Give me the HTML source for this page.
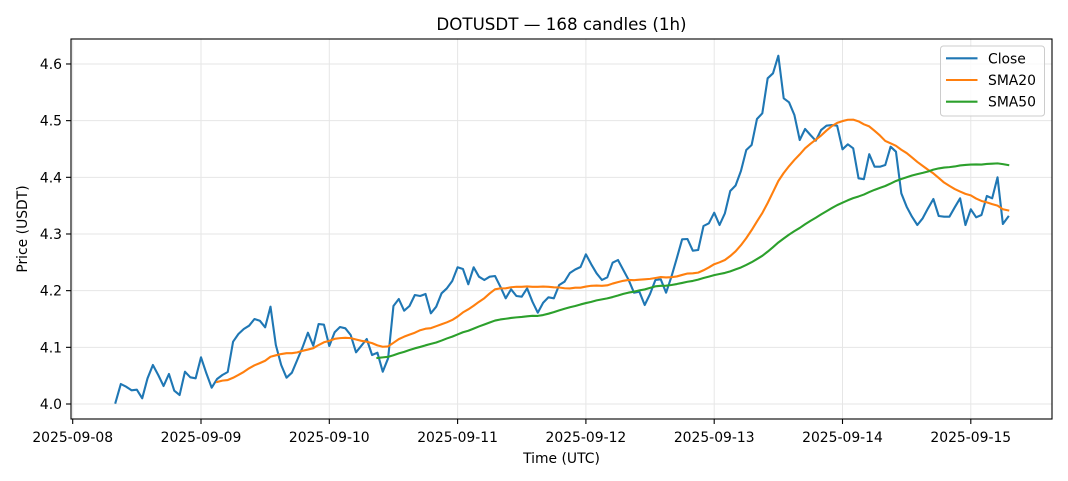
<!DOCTYPE html>
<html>
<head>
<meta charset="utf-8">
<style>
html,body{margin:0;padding:0;background:#fff;}
svg{display:block;}
text{font-family:"DejaVu Sans","Liberation Sans",sans-serif;fill:#000;}
</style>
</head>
<body>
<svg id="chart" width="1068" height="481" viewBox="0 0 1068 481" xmlns="http://www.w3.org/2000/svg">
<rect x="0" y="0" width="1068" height="481" fill="#fff"/>
<text x="561.5" y="30" font-size="16.7" text-anchor="middle">DOTUSDT — 168 candles (1h)</text>
<g id="grid" stroke="#e6e6e6" stroke-width="1"></g>
<g id="series" fill="none" stroke-linejoin="round" stroke-linecap="square"></g>
<rect x="71" y="39" width="981" height="380" fill="none" stroke="#000" stroke-width="1.1"/>
<g id="ticks" stroke="#000" stroke-width="1.1"></g>
<g id="labels" font-size="13.9"></g>
<text x="561.5" y="463" font-size="13.9" text-anchor="middle">Time (UTC)</text>
<text transform="translate(27,229) rotate(-90)" font-size="13.9" text-anchor="middle">Price (USDT)</text>
<g>
<rect x="940.5" y="46" width="104" height="70" rx="3" ry="3" fill="#fff" fill-opacity="0.8" stroke="#cccccc" stroke-width="1"/>
<line x1="946" y1="58.3" x2="977.5" y2="58.3" stroke="#1f77b4" stroke-width="2.1"/>
<line x1="946" y1="80" x2="977.5" y2="80" stroke="#ff7f0e" stroke-width="2.1"/>
<line x1="946" y1="101.7" x2="977.5" y2="101.7" stroke="#2ca02c" stroke-width="2.1"/>
<text x="988" y="63.3" font-size="13.9">Close</text>
<text x="988" y="85" font-size="13.9">SMA20</text>
<text x="988" y="106.7" font-size="13.9">SMA50</text>
</g>
</svg>
<script>
(function(){
var NS="http://www.w3.org/2000/svg";
var c=[402.7,384,386.7,390.3,389.7,398.3,378.3,365,375,386,374,390.7,395,371.7,377.3,378.3,357.3,373.3,387.7,379,
375,372,341.7,334,329,325.7,319,320.7,327.3,306.7,345,365,377.7,372.7,360,347.3,332.7,345.7,324,324.7,
346,332.2,327,328.3,335,352.3,345.7,339,355,352.7,371.7,358.3,306,299,310.7,306,295,296,294,313.3,
306.7,293.3,288.3,281,267.3,269,284.3,267.3,276.7,280,276.7,276,286.7,298.3,289.3,296,296.7,288.3,301.7,312.7,
302.7,297.3,298.3,285,281.7,273,269.5,267,254.3,264.3,273.3,280,277.3,262.7,260,270,280,292.7,291.7,305,
294,280,279.3,292.7,276.7,258.3,239.3,239,250.7,250,226,223.3,212.7,225,213.3,191,185.5,171,150,145,
119,113.3,78.3,73.3,55.7,98.3,102.3,115,140,129,135,140.7,130,125.7,125,125.7,149.3,144.3,148.3,178.3,
179.2,154.2,166.7,166.7,165,146.7,151.7,193.3,206.7,216.7,225,218.3,208.3,199,216,216.7,216.7,207.3,198.3,225,
209.3,217.3,215,196,198.3,177.3,224,216.7];
var day=128.3, x0=72.7;
function X(i){return x0+(8+i)*day/24;}
function el(tag,attrs,parent){var e=document.createElementNS(NS,tag);for(var k in attrs)e.setAttribute(k,attrs[k]);parent.appendChild(e);return e;}
var grid=document.getElementById('grid'),ticks=document.getElementById('ticks'),labels=document.getElementById('labels'),series=document.getElementById('series');
var dates=['2025-09-08','2025-09-09','2025-09-10','2025-09-11','2025-09-12','2025-09-13','2025-09-14','2025-09-15'];
for(var d=0;d<8;d++){
  var x=x0+d*day;
  el('line',{x1:x,y1:39,x2:x,y2:419},grid);
  el('line',{x1:x,y1:419,x2:x,y2:424},ticks);
  var t=el('text',{x:x,y:442,'text-anchor':'middle'},labels);t.textContent=dates[d];
}
for(var k=0;k<7;k++){
  var y=404-k*56.67;
  el('line',{x1:71,y1:y,x2:1052,y2:y},grid);
  el('line',{x1:66,y1:y,x2:71,y2:y},ticks);
  var t2=el('text',{x:62,y:y+5,'text-anchor':'end'},labels);t2.textContent=(4+k/10).toFixed(1);
}
function pts(arr,start){var s=[];for(var i=0;i<arr.length;i++)s.push(X(i+start).toFixed(2)+','+arr[i].toFixed(2));return s.join(' ');}
function sma(n){var r=[];for(var i=n-1;i<c.length;i++){var s=0;for(var j=i-n+1;j<=i;j++)s+=c[j];r.push(s/n);}return r;}
el('polyline',{points:pts(c,0),stroke:'#1f77b4','stroke-width':2.1},series);
el('polyline',{points:pts(sma(20),19),stroke:'#ff7f0e','stroke-width':2.1},series);
el('polyline',{points:pts(sma(50),49),stroke:'#2ca02c','stroke-width':2.1},series);
})();
</script>
</body>
</html>
